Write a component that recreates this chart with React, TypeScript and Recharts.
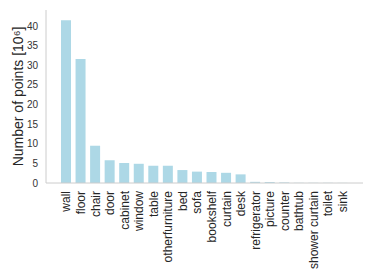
import { BarChart, Bar, XAxis, YAxis } from "recharts";

const categories = [
  "wall",
  "floor",
  "chair",
  "door",
  "cabinet",
  "window",
  "table",
  "otherfurniture",
  "bed",
  "sofa",
  "bookshelf",
  "curtain",
  "desk",
  "refrigerator",
  "picture",
  "counter",
  "bathtub",
  "shower curtain",
  "toilet",
  "sink",
];
const points = [
  41.5, 31.6, 9.5, 5.8, 5.1, 4.9, 4.4, 4.4, 3.3, 2.9, 2.8, 2.6, 2.2, 0.3, 0.25,
  0.15, 0.05, 0.05, 0.05, 0.03,
];
const yTicks = [0, 5, 10, 15, 20, 25, 30, 35, 40];

const data = categories.map((name, i) => ({ name, value: points[i] }));

const FRAME = "#cccccc";
const TEXT = "#262626";

function RotatedTick(props: any) {
  const { x, y, payload } = props;
  return (
    <text
      transform={`translate(${x},${y}) rotate(-90)`}
      textAnchor="end"
      dy="0.35em"
      fontSize={12}
      fill={TEXT}
      fontFamily="Liberation Sans, Arial, sans-serif"
    >
      {payload.value}
    </text>
  );
}

export default function App() {
  return (
    <BarChart
      width={366}
      height={272}
      data={data}
      margin={{ top: 2, right: 11, bottom: 0, left: 0 }}
      style={{ fontFamily: "Liberation Sans, Arial, sans-serif" }}
    >
      <XAxis
        dataKey="name"
        interval={0}
        height={97}
        tick={<RotatedTick />}
        tickLine={false}
        tickSize={6}
        tickMargin={2}
        axisLine={{ stroke: FRAME }}
        padding={{ left: 13, right: 13 }}
      />
      <XAxis
        xAxisId="top"
        orientation="top"
        dataKey="name"
        height={0}
        tick={false}
        tickLine={false}
        axisLine={{ stroke: FRAME }}
      />
      <YAxis
        width={38}
        domain={[0, 44.1]}
        ticks={yTicks}
        tickLine={false}
        tickSize={6}
        tickMargin={2}
        tick={{ fontSize: 10, fill: "#333333" }}
        axisLine={{ stroke: FRAME }}
        label={{
          value: "Number of points [10⁶]",
          angle: -90,
          position: "insideLeft",
          offset: 10,
          style: { textAnchor: "middle", fontSize: 14, fill: TEXT },
        }}
      />
      <YAxis
        yAxisId="right"
        orientation="right"
        width={0}
        tick={false}
        tickLine={false}
        axisLine={{ stroke: FRAME }}
      />
      <Bar dataKey="value" fill="#add8e6" barSize={10} isAnimationActive={false} />
    </BarChart>
  );
}
